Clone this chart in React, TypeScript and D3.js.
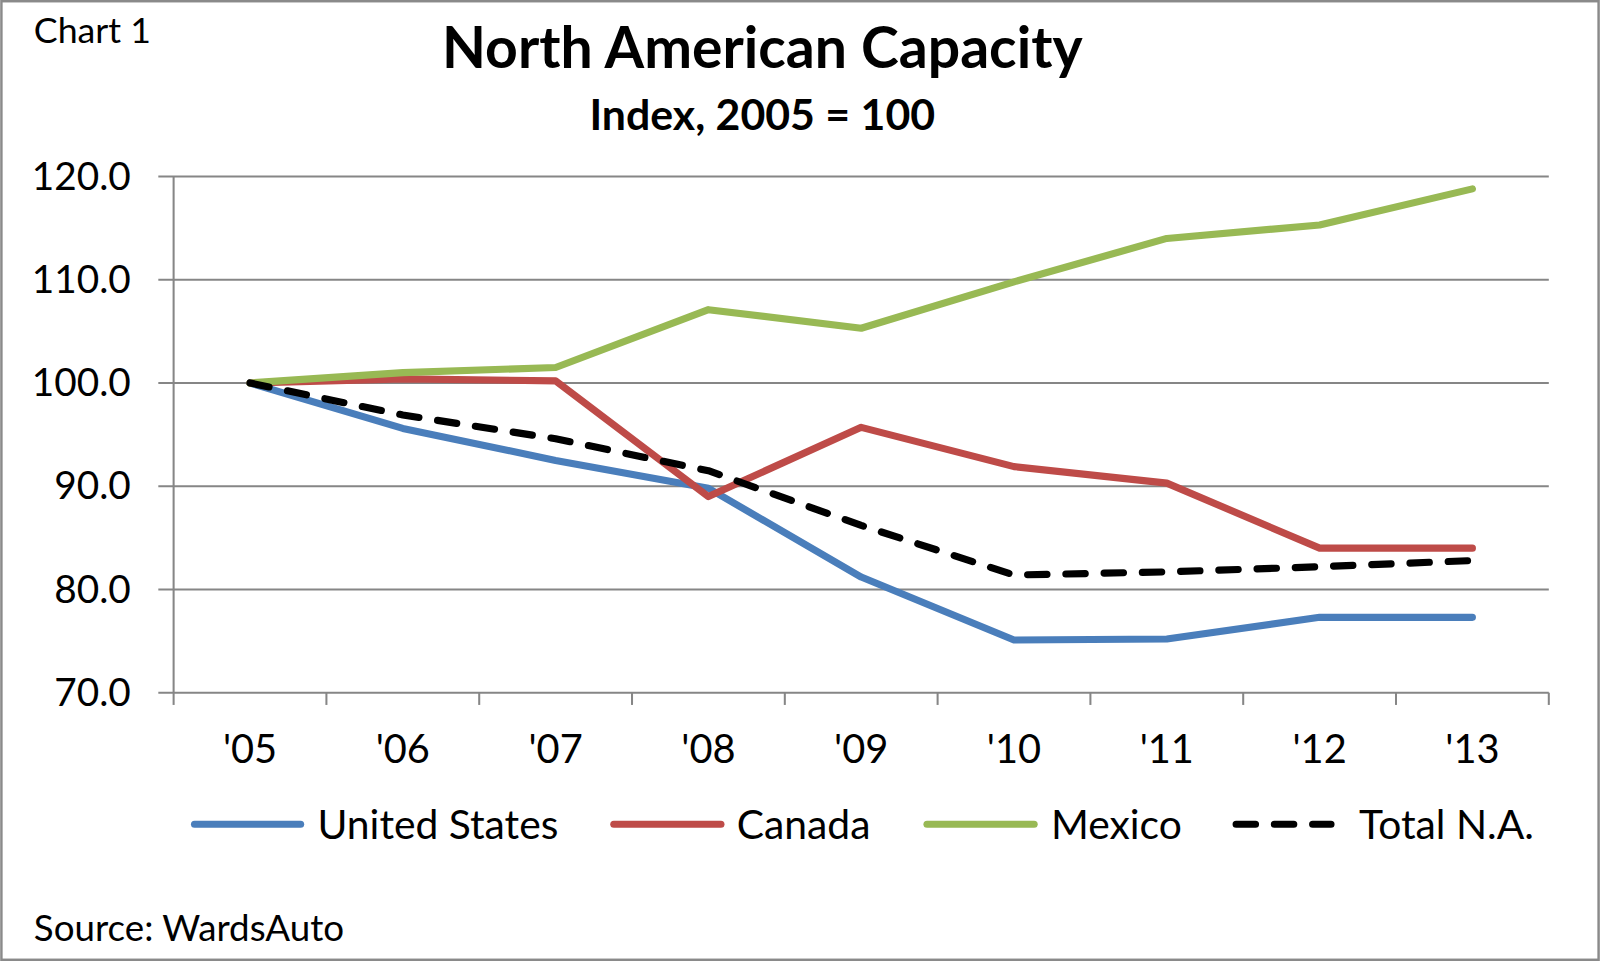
import React from "react";
import * as d3 from "d3";

const years = ["'05", "'06", "'07", "'08", "'09", "'10", "'11", "'12", "'13"];
const unitedStates = [100, 95.6, 92.5, 89.8, 81.2, 75.1, 75.2, 77.3, 77.3];
const canada = [100, 100.4, 100.2, 89.0, 95.7, 91.9, 90.3, 84.0, 84.0];
const mexico = [100, 101.0, 101.5, 107.1, 105.3, 109.8, 114.0, 115.3, 118.8];
const totalNA = [100, 96.9, 94.6, 91.5, 86.2, 81.4, 81.7, 82.2, 82.8];
const yTicks = [70, 80, 90, 100, 110, 120];
const seriesNames = ["United States", "Canada", "Mexico", "Total N.A."];
const seriesColors = ["#4A7EBB", "#BE4B48", "#98B954", "#000000"];

const W = 1568;
const H = 942;
const FONT = "Lato, 'Open Sans', sans-serif";

export default function App() {
  const x = d3.scaleBand<string>().domain(years).range([170, 1518]).padding(0);
  const y = d3.scaleLinear().domain([70, 120]).range([679, 173]);
  const cx = (i: number) => (x(years[i]) as number) + x.bandwidth() / 2;
  const line = d3
    .line<number>()
    .x((_, i) => cx(i))
    .y((d) => y(d));

  const series = [unitedStates, canada, mexico, totalNA];
  const legendX = [187, 598, 905, 1208];
  const legendLen = [111, 112, 112, 100];
  const legendTextX = [311, 722, 1030, 1332];
  const grid = "#868686";

  const boundaries = years.map((yr) => x(yr) as number).concat([1518]);

  return (
    <svg
      width={1600}
      height={961}
      viewBox={`0 0 ${W} ${H}`}
      style={{ position: "absolute", left: 0, top: 0, background: "#fff" }}
    >
      <rect x={0} y={0} width={W} height={H} fill="#fff" />
      <rect x={1.2} y={1.2} width={W - 2.4} height={H - 2.4} fill="none" stroke="#8a8a8a" strokeWidth={2.4} />

      <text x={33} y={42} fontFamily={FONT} fontSize={35} fill="#000">
        Chart 1
      </text>
      <text x={747} y={67} textAnchor="middle" fontFamily={FONT} fontSize={56} fontWeight={700} fill="#000">
        North American Capacity
      </text>
      <text x={747} y={127} textAnchor="middle" fontFamily={FONT} fontSize={42} fontWeight={700} fill="#000">
        Index, 2005 = 100
      </text>

      {/* gridlines */}
      {yTicks.map((t) => (
        <g key={t}>
          <line x1={155} x2={1518} y1={y(t)} y2={y(t)} stroke={grid} strokeWidth={2} />
          <text
            x={128}
            y={y(t) + 13}
            textAnchor="end"
            fontFamily={FONT}
            fontSize={38}
            fill="#000"
          >
            {t.toFixed(1)}
          </text>
        </g>
      ))}
      {/* y axis */}
      <line x1={170} x2={170} y1={173} y2={679} stroke={grid} strokeWidth={2} />
      {/* x ticks */}
      {boundaries.map((b, i) => (
        <line key={i} x1={b} x2={b} y1={679} y2={691} stroke={grid} strokeWidth={2} />
      ))}
      {years.map((yr, i) => (
        <text key={yr} x={cx(i)} y={748} textAnchor="middle" fontFamily={FONT} fontSize={39} fill="#000">
          {yr}
        </text>
      ))}

      {/* series */}
      {series.map((s, k) => (
        <path
          key={k}
          d={line(s) || ""}
          fill="none"
          stroke={seriesColors[k]}
          strokeWidth={7}
          strokeLinejoin="round"
          strokeLinecap="round"
          strokeDasharray={k === 3 ? "19 18.5" : undefined}
        />
      ))}

      {/* legend */}
      {seriesNames.map((name, k) => (
        <g key={name}>
          <line
            x1={legendX[k] + 3.5}
            x2={legendX[k] + legendLen[k] - 3.5}
            y1={808}
            y2={808}
            stroke={seriesColors[k]}
            strokeWidth={7}
            strokeLinecap="round"
            strokeDasharray={k === 3 ? "19 18.5" : undefined}
          />
          <text x={legendTextX[k]} y={822} fontFamily={FONT} fontSize={40} fill="#000">
            {name}
          </text>
        </g>
      ))}

      <text x={33} y={922} fontFamily={FONT} fontSize={36} fill="#000">
        Source: WardsAuto
      </text>
    </svg>
  );
}
